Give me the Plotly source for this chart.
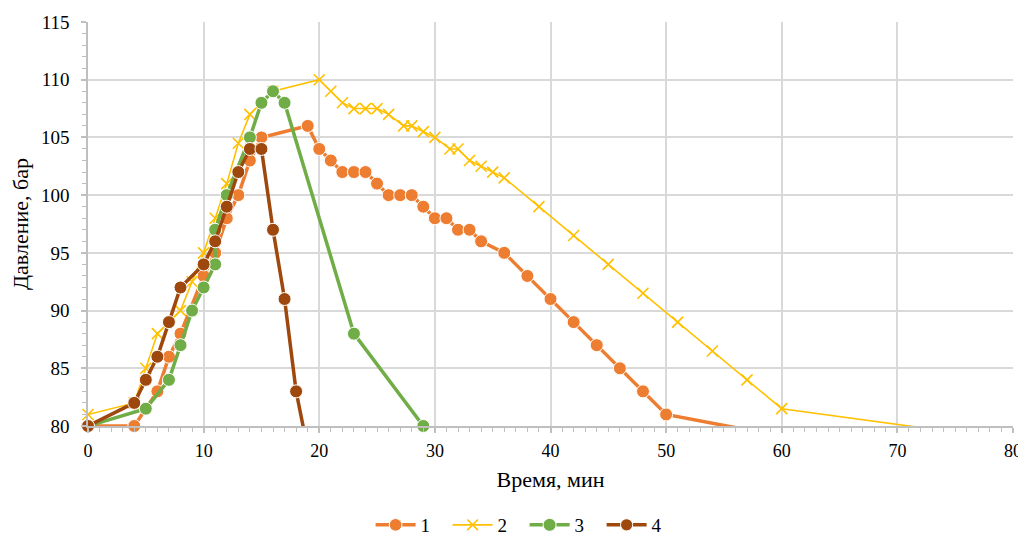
import plotly.graph_objects as go

# ---- data ----
t1 = [0, 4, 6, 7, 8, 10, 11, 12, 13, 14, 15, 19, 20, 21, 22, 23, 24, 25, 26, 27, 28, 29, 30, 31,
      32, 33, 34, 36, 38, 40, 42, 44, 46, 48, 50, 60]
p1 = [80, 80, 83, 86, 88, 93, 95, 98, 100, 103, 105, 106, 104, 103, 102, 102, 102, 101, 100, 100,
      100, 99, 98, 98, 97, 97, 96, 95, 93, 91, 89, 87, 85, 83, 81, 79.1]

t2 = [0, 4, 5, 6, 8, 9, 10, 11, 12, 13, 14, 16, 20, 21, 22, 23, 24, 25, 26, 27.3, 28, 29, 30,
      31.3, 32, 33, 34, 35, 36, 39, 42, 45, 48, 51, 54, 57, 60, 82]
p2 = [81, 82, 85, 88, 90, 92.5, 95, 98, 101, 104.5, 107, 109, 110, 109, 108, 107.5, 107.5, 107.5,
      107, 106, 106, 105.5, 105, 104, 104, 103, 102.5, 102, 101.5, 99, 96.5, 94, 91.5, 89, 86.5,
      84, 81.5, 78.5]

t3 = [0, 5, 7, 8, 9, 10, 11, 11, 12, 14, 15, 16, 17, 23, 29]
p3 = [80, 81.5, 84, 87, 90, 92, 94, 97, 100, 105, 108, 109, 108, 88, 80]

t4 = [0, 4, 5, 6, 7, 8, 10, 11, 12, 13, 14, 15, 16, 17, 18, 19]
p4 = [80, 82, 84, 86, 89, 92, 94, 96, 99, 102, 104, 104, 97, 91, 83, 78]

names = ["1", "2", "3", "4"]
colors = ["#ED7D31", "#FFC000", "#70AD47", "#9E480E"]

X_RANGE = [0, 80]
Y_RANGE = [80, 115]

FONT = "Liberation Serif"
GRID = "#D9D9D9"
AXIS = "#BFBFBF"


def sizes(xs, ys, s):
    return [s if (X_RANGE[0] <= x <= X_RANGE[1] and Y_RANGE[0] <= y <= Y_RANGE[1]) else 0
            for x, y in zip(xs, ys)]


fig = go.Figure()
series = [(t1, p1), (t2, p2), (t3, p3), (t4, p4)]
for (xs, ys), nm, col in zip(series, names, colors):
    if nm == "2":
        fig.add_trace(go.Scatter(
            x=xs, y=ys, name=nm, mode="lines+markers", cliponaxis=False,
            line=dict(color=col, width=1.6),
            marker=dict(symbol="x-thin", size=sizes(xs, ys, 11), opacity=1,
                        line=dict(color=col, width=1.6), color=col),
        ))
    else:
        fig.add_trace(go.Scatter(
            x=xs, y=ys, name=nm, mode="lines+markers", cliponaxis=False,
            line=dict(color=col, width=3.5),
            marker=dict(symbol="circle", size=sizes(xs, ys, 13), color=col, opacity=1),
        ))

tick_common = dict(
    showgrid=True, gridcolor=GRID, gridwidth=1.5,
    showline=True, linecolor=AXIS, linewidth=1.5,
    ticks="outside", ticklen=5, tickcolor=AXIS, tickwidth=1.5,
    minor=dict(dtick=1, ticks="outside", ticklen=4, tickcolor=AXIS, tickwidth=1.2,
               showgrid=False),
    zeroline=False, automargin=False, ticklabeloverflow="allow",
)
overlay_common = dict(
    showgrid=False, showline=False, showticklabels=False, zeroline=False,
    ticks="inside", ticklen=5, tickcolor=AXIS, tickwidth=1.5, automargin=False,
    minor=dict(dtick=1, ticks="inside", ticklen=4, tickcolor=AXIS, tickwidth=1.2,
               showgrid=False),
)

fig.update_layout(
    width=1018, height=528,
    margin=dict(l=80, r=13, t=14, b=110, autoexpand=False),
    paper_bgcolor="white", plot_bgcolor="white",
    font=dict(family=FONT, size=18, color="#000000"),
    showlegend=True,
    legend=dict(orientation="h", x=0.472, xanchor="center", y=-0.245, yanchor="middle",
                font=dict(size=19), entrywidth=22, itemwidth=40,
                traceorder="normal"),
    xaxis=dict(range=X_RANGE, dtick=10, tick0=0,
               tickfont=dict(size=18), ticklabelstandoff=3,
               title=dict(text="Время, мин", font=dict(size=22), standoff=11),
               **tick_common),
    yaxis=dict(range=Y_RANGE, dtick=5, tick0=80,
               tickfont=dict(size=19), ticklabelstandoff=8,
               title=dict(text="Давление, бар", font=dict(size=22), standoff=8),
               **tick_common),
    xaxis2=dict(range=X_RANGE, overlaying="x", anchor="y", side="bottom", dtick=10, tick0=0,
                **overlay_common),
    yaxis2=dict(range=Y_RANGE, overlaying="y", anchor="x", side="left", dtick=5, tick0=80,
                **overlay_common),
)

fig.write_html("out.html")
